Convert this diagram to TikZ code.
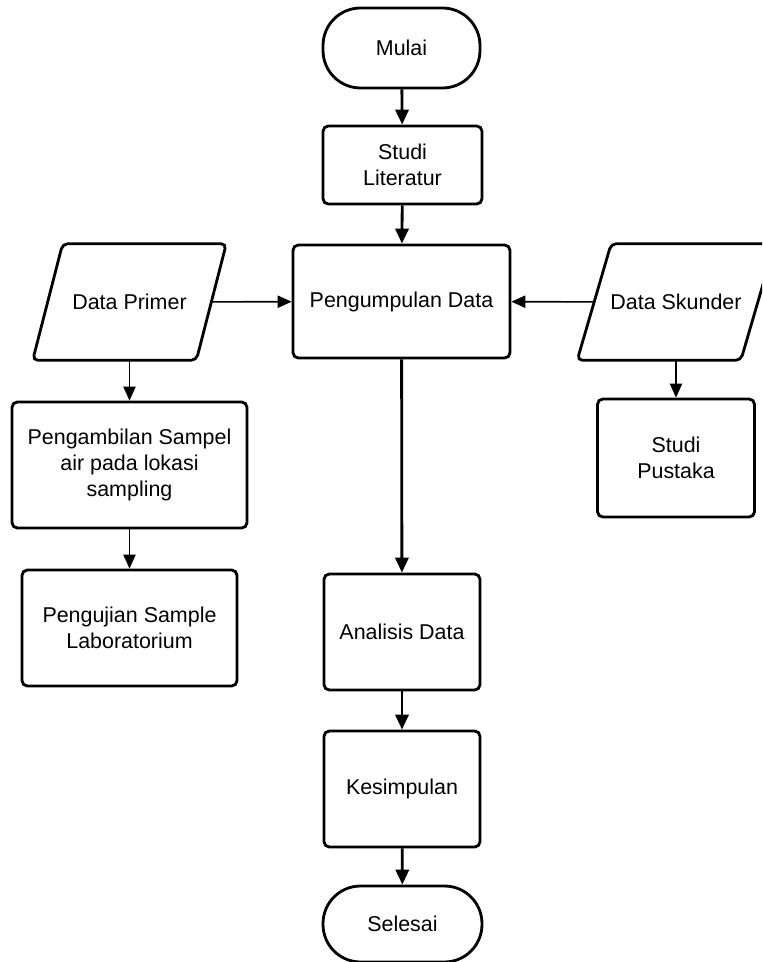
\documentclass[tikz,border=0pt]{standalone}
\usepackage{fontspec}
\setmainfont{Liberation Sans}
\usetikzlibrary{arrows.meta}

\tikzset{
  base/.style={draw, line width=1.6pt, align=center, inner sep=2pt,
    font=\fontsize{12.2}{15}\selectfont},
  box/.style={base, rectangle, rounded corners=3pt},
  term/.style={base, rectangle, rounded corners=0.75cm},
  io/.style={align=center, inner sep=0pt, font=\fontsize{12.2}{15}\selectfont},
  iobox/.style={line width=1.6pt, rounded corners=3pt},
  main/.style={-{Triangle[length=8.5pt,width=7.5pt]}, line width=1.6pt},
  side/.style={-{Triangle[length=8pt,width=7pt]}, line width=0.9pt},
}

\begin{document}
\begin{tikzpicture}[x=0.02cm, y=-0.02cm]
  \fill[white] (0,0) rectangle (762,962);
  \clip (0,0) rectangle (762,962);
  % middle column
  \node[term, minimum width=3.14cm, minimum height=1.6cm] (mulai) at (401.5,48) {Mulai};
  \node[box, minimum width=3.18cm, minimum height=1.56cm] (lit) at (402.5,165) {Studi\\Literatur};
  \node[box, minimum width=4.34cm, minimum height=2.26cm] (kumpul) at (401.5,301.5) {Pengumpulan Data};
  \node[box, minimum width=3.12cm, minimum height=2.32cm] (analisis) at (402,632) {Analisis Data};
  \node[box, minimum width=3.12cm, minimum height=2.32cm] (simpul) at (402,789) {Kesimpulan};
  \node[term, minimum width=3.18cm, minimum height=1.52cm] (selesai) at (402.5,924) {Selesai};
  % left column
  \node[io, minimum width=3.26cm, minimum height=2.32cm] (primer) at (129.5,302) {Data Primer};
  \node[box, minimum width=4.7cm, minimum height=2.52cm] (ambil) at (129.5,465) {Pengambilan Sampel\\air pada lokasi\\sampling};
  \node[box, minimum width=4.3cm, minimum height=2.32cm] (uji) at (129.5,628) {Pengujian Sample\\Laboratorium};
  % right column
  \node[io, minimum width=3.26cm, minimum height=2.32cm] (skunder) at (676,302) {Data Skunder};
  \node[box, minimum width=3.14cm, minimum height=2.36cm] (pustaka) at (676,458) {Studi\\Pustaka};
  % data shapes
  \draw[iobox] ([xshift=0.3cm]primer.north west) -- ([xshift=0.3cm]primer.north east)
    -- ([xshift=-0.3cm]primer.south east) -- ([xshift=-0.3cm]primer.south west) -- cycle;
  \draw[iobox] ([xshift=0.34cm]skunder.north west) -- ([xshift=0.34cm]skunder.north east)
    -- ([xshift=-0.34cm]skunder.south east) -- ([xshift=-0.34cm]skunder.south west) -- cycle;
  % arrows
  \draw[main] (mulai) -- (lit);
  \draw[main] (lit) -- (kumpul);
  \draw[main] (kumpul) -- (analisis);
  \draw[main] (analisis) -- (simpul);
  \draw[main] (simpul) -- (selesai);
  \draw[side] (primer) -- (kumpul);
  \draw[side] (skunder) -- (kumpul);
  \draw[side] (primer) -- (ambil);
  \draw[side] (ambil) -- (uji);
  \draw[side] (skunder) -- (pustaka);
\end{tikzpicture}
\end{document}
